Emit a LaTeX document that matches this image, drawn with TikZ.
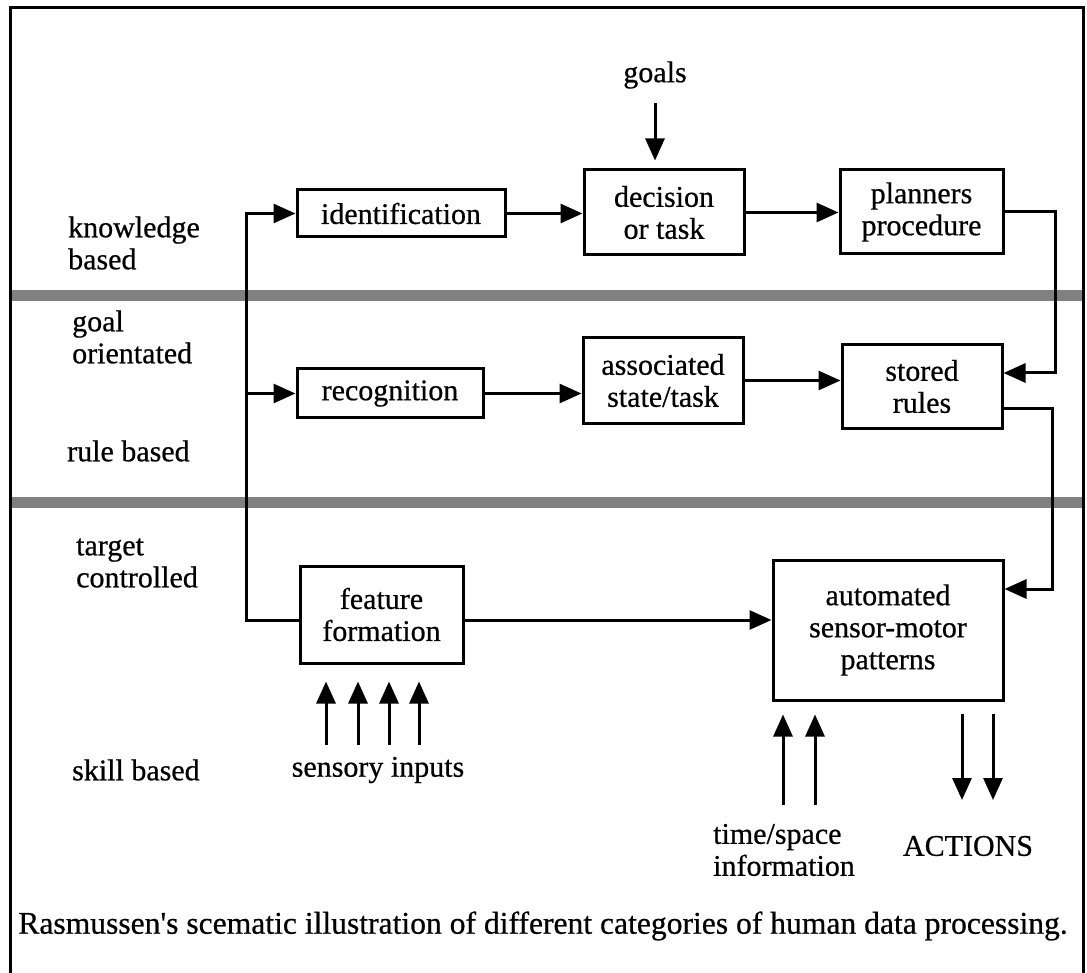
\documentclass[tikz,border=0pt]{standalone}
\usepackage{fontspec}
\setmainfont[FakeBold=0.6]{Liberation Serif}
\newfontfamily\straightfont[FakeBold=0.6,Ligatures=TeXOff]{Liberation Serif}
\usetikzlibrary{arrows.meta}
\begin{document}
\begin{tikzpicture}[x=1pt,y=-1pt,
  txt/.style={inner sep=0pt, font=\fontsize{30}{32}\selectfont},
  lbl/.style={txt, align=left, anchor=west},
  box/.style={txt, draw, line width=3pt, align=center},
  wire/.style={line width=3pt, line join=miter},
  conn/.style={wire, -{Triangle[length=22pt,width=19pt]}},
  band/.style={fill=black!50, draw=none}]

% canvas
\useasboundingbox (0,0) rectangle (1087,973);
\fill[white] (0,0) rectangle (1087,973);

% level separators
\fill[band] (10,290) rectangle (1083,301);
\fill[band] (10,497) rectangle (1083,508);

% outer frame
\draw[wire] (10,973) -- (10,8) -- (1083,8) -- (1083,973);

% level labels
\node[lbl] (kb) at (68,243) {knowledge\\based};
\node[lbl] (go) at (72,337) {goal\\orientated};
\node[lbl] (rb) at (67,451) {rule based};
\node[lbl] (tc) at (76,563) {target\\controlled};
\node[lbl] (sb) at (72,770) {skill based};

% processing boxes
\node[box, minimum width=208pt, minimum height=47pt] (ident) at (401,213.5) {identification};
\node[box, minimum width=160pt, minimum height=85pt] (dec) at (664,212.5) {decision\\or task};
\node[box, minimum width=163pt, minimum height=84pt] (plan) at (921.5,212) {planners\\procedure};
\node[box, minimum width=186pt, minimum height=49pt] (recog) at (390,393.5) {recognition};
\node[box, minimum width=160pt, minimum height=85pt] (assoc) at (663,380.5) {associated\\state/task};
\node[box, minimum width=160pt, minimum height=83pt] (stored) at (922,386.5) {stored\\rules};
\node[box, minimum width=163pt, minimum height=97pt] (feat) at (381.5,614.5) {feature\\formation};
\node[box, minimum width=230pt, minimum height=140pt] (auto) at (888,630) {automated\\sensor-motor\\patterns};

% external inputs and outputs
\node[txt] (goals) at (655,75) {goals};
\node[txt] (sens) at (378,770) {sensory inputs};
\node[txt, align=left, anchor=west] (tsi) at (713,850) {time/space\\information};
\node[txt] (act) at (968,846) {ACTIONS};
\node[txt, font=\fontsize{31.6}{34}\selectfont] (cap) at (543,926) {Rasmussen{\straightfont'}s scematic illustration of different categories of human data processing.};

% routing columns
\coordinate (trunk) at (246,0);
\coordinate (rcol1) at (1055,0);
\coordinate (rcol2) at (1052,0);

% knowledge level
\draw[conn] ([yshift=-14pt]goals.south) -- ([yshift=8pt]dec.north -| goals) ;
\draw[conn] (ident.east) -- (ident.east -| dec.west);
\draw[conn] (dec.east) -- (dec.east -| plan.west);
\draw[conn] (plan.east) -- (plan.east -| rcol1) |- ([yshift=13.5pt]stored.east);

% rule level
\draw[conn] (recog.east) -- (recog.east -| assoc.west);
\draw[conn] (assoc.east) -- (assoc.east -| stored.west);
\draw[conn] ([yshift=-22.5pt]stored.east) -- ([yshift=-22.5pt]stored.east -| rcol2) |- ([yshift=41pt]auto.east);

% skill level and feedback trunk
\draw[conn] ([yshift=-5.5pt]feat.west) -| (trunk |- ident.west) -- (ident.west);
\draw[conn] (trunk |- recog.west) -- (recog.west);
\draw[conn] ([yshift=-5.5pt]feat.east) -- ([yshift=-5.5pt]feat.east -| auto.west);

% sensory inputs
\foreach \sx in {326,358,389,419} {
  \coordinate (s\sx) at (\sx,745);
  \draw[conn, shorten >=17pt] (s\sx) -- (s\sx |- feat.south);
}

% time/space information
\foreach \tx in {783,815} {
  \coordinate (t\tx) at (\tx,805);
  \draw[conn, shorten >=13pt] (t\tx) -- (t\tx |- auto.south);
}

% actions
\foreach \ax in {962,993} {
  \coordinate (a\ax) at (\ax,800);
  \draw[conn, shorten <=12pt] (a\ax |- auto.south) -- (a\ax);
}
\end{tikzpicture}
\end{document}
